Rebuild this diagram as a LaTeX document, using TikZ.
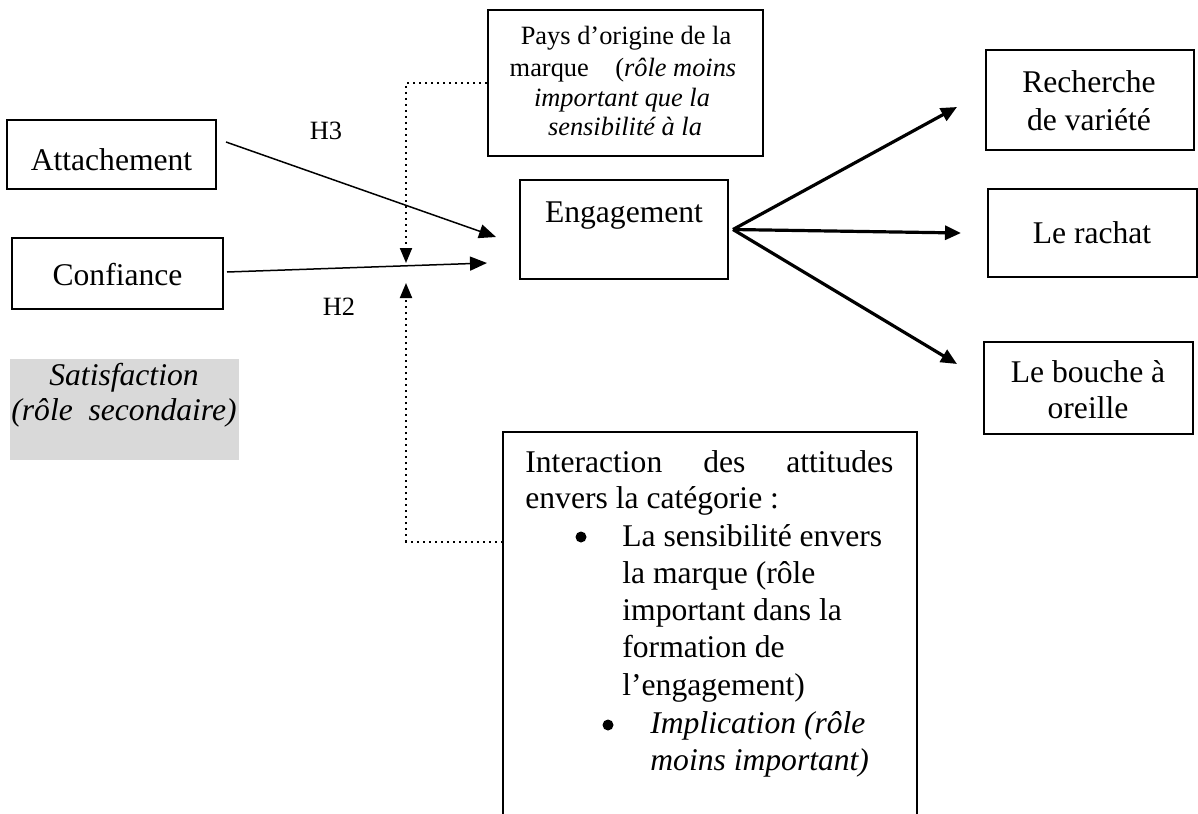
\documentclass[tikz,border=0pt]{standalone}
\usepackage{fontspec}
\setmainfont{Liberation Serif}
\usetikzlibrary{arrows.meta}
\begin{document}
\begin{tikzpicture}[x=0.5pt,y=-0.5pt,
  box/.style={draw, line width=1pt, inner sep=0pt, rectangle},
  txt/.style={inner sep=0pt, anchor=base, font=\fontsize{15.8pt}{18.5pt}\selectfont},
  txtl/.style={txt, anchor=base west},
  small/.style={inner sep=0pt, anchor=base, font=\fontsize{13.2pt}{15pt}\selectfont},
  bulletdot/.style={circle, fill, inner sep=0pt, minimum size=5.5pt},
  thinarr/.style={line width=0.75pt, -{Triangle[length=8.5pt,width=7pt]}},
  fanarr/.style={line width=1.6pt, -{Triangle[length=8pt,width=7pt]}},
  dotarr/.style={line width=1pt, dash pattern=on 1pt off 2pt, -{Triangle[length=7.5pt,width=6pt]}},
]
\useasboundingbox (0,0) rectangle (1198,813);

% left-hand constructs
\node[box, minimum width=104.5pt, minimum height=34.5pt] (att) at (111.5,154.5) {};
\node[txt] (attT) at (111.5,170) {Attachement};
\node[box, minimum width=105.5pt, minimum height=35.5pt] (conf) at (117.5,273.5) {};
\node[txt] (confT) at (117.5,285) {Confiance};
\node[fill={rgb,255:red,217;green,217;blue,217}, inner sep=0pt, minimum width=114.5pt, minimum height=50.5pt] (sat) at (124.5,409.5) {};
\node[txt] (satA) at (124,385) {\itshape Satisfaction};
\node[txt] (satB) at (124,420) {\itshape (rôle\ \ secondaire)};

% moderator: country of origin
\node[box, minimum width=137.5pt, minimum height=73pt] (pays) at (625.5,83) {};
\node[small] (paysA) at (626,45) {Pays d’origine de la};
\node[small] (paysB) at (623,76) {marque\hspace{1em}(\textit{rôle moins}};
\node[small] (paysC) at (622,106) {\itshape important que la};
\node[small] (paysD) at (625,135) {\itshape sensibilité à la};

% central construct
\node[box, minimum width=104pt, minimum height=49.5pt] (eng) at (624,229.5) {};
\node[txt] (engT) at (624,222) {Engagement};

% outcomes
\node[box, minimum width=104pt, minimum height=50pt] (rech) at (1090,100) {};
\node[txt] (rechA) at (1089,93) {Recherche};
\node[txt] (rechB) at (1089,130) {de variété};
\node[box, minimum width=104.5pt, minimum height=44pt] (rach) at (1092.5,233) {};
\node[txt] (rachT) at (1092,243) {Le rachat};
\node[box, minimum width=104.5pt, minimum height=46pt] (bou) at (1088.5,388) {};
\node[txt] (bouA) at (1088,382) {Le bouche à};
\node[txt] (bouB) at (1088,418) {oreille};

% moderator: attitudes towards the category (open at the bottom)
\node[inner sep=0pt, minimum width=207pt, minimum height=192pt] (inter) at (710,624) {};
\draw[line width=1pt] (inter.south west) -- (inter.north west) -- (inter.north east) -- (inter.south east);
\node[txtl] (intA) at (525,472) {\makebox[184pt][s]{Interaction des attitudes}};
\node[txtl] (intB) at (525,508) {envers la catégorie :};
\node[bulletdot] (bulA) at (581,537) {};
\node[txtl] (intC) at (622,546) {La sensibilité envers};
\node[txtl] (intD) at (622,583) {la marque (rôle};
\node[txtl] (intE) at (622,620) {important dans la};
\node[txtl] (intF) at (622,657) {formation de};
\node[txtl] (intG) at (622,695) {l’engagement)};
\node[bulletdot] (bulB) at (608,725) {};
\node[txtl] (intH) at (650,733) {\itshape Implication (rôle};
\node[txtl] (intI) at (650,770) {\itshape moins important)};

% hypothesis labels
\node[small] (h3) at (326,140) {H3};
\node[small] (h2) at (339,315) {H2};

% direct effects
\draw[thinarr] ([shift={(9,23)}]att.north east) -- ([shift={(-23,7.5)}]eng.west);
\draw[thinarr] ([shift={(3,-1.5)}]conf.east) -- ([shift={(-32,33.5)}]eng.west);

% consequences of engagement
\coordinate (fan) at ([shift={(4,0)}]eng.east);
\draw[fanarr] (fan) -- ([shift={(-28,7)}]rech.west);
\draw[fanarr] (fan) -- ([shift={(-26,0)}]rach.west);
\draw[fanarr] (fan) -- ([shift={(-26,-24)}]bou.west);

% moderating effects
\coordinate (modA) at (406,263);
\coordinate (modB) at (406,283);
\coordinate (interL) at ([shift={(0,110)}]inter.north west);
\draw[dotarr] (pays.west) -| (modA);
\draw[dotarr] (interL) -| (modB);
\end{tikzpicture}
\end{document}
